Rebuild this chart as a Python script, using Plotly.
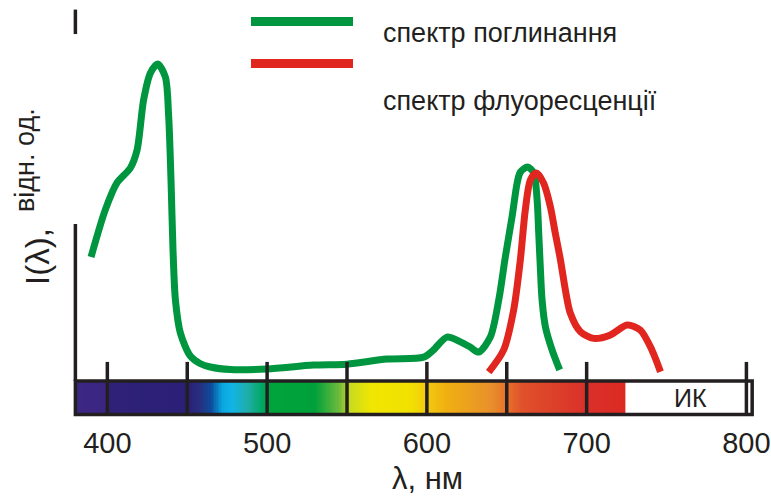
import plotly.graph_objects as go
import numpy as np

# ---- data (relative intensity, wavelength in nm) ----
absorb_nm = [389.8, 398.7, 406.0, 414.4, 418.6, 422.7, 427.0, 431.5, 436.3, 438.4, 439.9, 441.1,
             442.6, 445.7, 452.0, 458.0, 464.5, 477.0, 500.0, 529.0, 550.0, 575.0, 598.0, 604.0,
             612.6, 621.0, 627.0, 632.4, 639.7, 645.0, 649.1, 653.3, 656.5, 658.5, 663.1, 666.9,
             669.0, 670.0, 671.0, 672.1, 674.2, 678.4, 683.1]
absorb_I = [0.390, 0.538, 0.623, 0.670, 0.726, 0.884, 0.969, 0.997, 0.956, 0.830, 0.623, 0.412,
            0.255, 0.151, 0.078, 0.055, 0.044, 0.036, 0.038, 0.050, 0.053, 0.069, 0.075, 0.097,
            0.138, 0.123, 0.107, 0.091, 0.138, 0.255, 0.390, 0.516, 0.623, 0.657, 0.673, 0.654,
            0.569, 0.465, 0.358, 0.255, 0.170, 0.097, 0.035]

fluor_nm = [638.7, 648.0, 654.3, 658.5, 661.6, 664.8, 668.5, 673.1, 677.3, 680.4, 683.6, 686.7,
            689.8, 696.1, 704.4, 714.9, 725.3, 733.6, 740.9, 746.2]
fluor_I = [0.028, 0.097, 0.223, 0.381, 0.538, 0.632, 0.654, 0.622, 0.548, 0.464, 0.381, 0.286,
           0.213, 0.155, 0.134, 0.145, 0.176, 0.160, 0.097, 0.029]

tick_labels = [400, 500, 600, 700, 800]
tick_marks = [400, 450, 500, 550, 600, 650, 700, 800]

# visible-spectrum colour band
band_nm = [380, 399, 401, 450, 458, 465, 472, 478, 488, 497, 502, 530, 545, 552, 565, 590,
           600, 612, 640, 650, 660, 700, 724]
band_col = ['#3d2785', '#3a2583', '#2f2177', '#2b1f78', '#26307f', '#0d4c9c', '#0aa6df',
            '#12b4e6', '#20ada8', '#00a862', '#00a43c', '#00a13a', '#6fba3c', '#c8dc1e',
            '#f0e602', '#f2e100', '#f2c810', '#f0b010', '#e8902c', '#e8702a', '#e0502a',
            '#da302a', '#dc2a22']
band_top, band_bottom = 0.0, -0.105
band_end = 803.6
ir_label = 'ИК'

GREEN = '#009640'
RED = '#e0261e'
BLACK = '#231f20'
FONT = 'Liberation Sans, Arial, sans-serif'

# ---- geometry ----
W, H = 771, 496
L, R, T, B = 69, 15, 8, 73
XR = [376, 806]
YR = [-0.1321, 1.1730]

def px(wx):   # pixel x -> paper x
    return (wx - L) / (W - L - R)

def py(wy):   # pixel y -> paper y
    return 1 - (wy - T) / (H - T - B)

fig = go.Figure()

lo, hi = band_nm[0], band_nm[-1]
xc = np.arange(lo + 0.5, hi, 1.0)
cs = [[(w - lo) / (hi - lo), c] for w, c in zip(band_nm, band_col)]
fig.add_trace(go.Heatmap(x=xc, y0=(band_top + band_bottom) / 2, dy=band_top - band_bottom, z=[xc],
                         colorscale=cs, zmin=lo, zmax=hi, showscale=False, hoverinfo='skip'))

fig.add_trace(go.Scatter(x=absorb_nm, y=absorb_I, mode='lines',
                         line=dict(color=GREEN, width=7, shape='spline', smoothing=0.8),
                         hoverinfo='skip', showlegend=False))
fig.add_trace(go.Scatter(x=fluor_nm, y=fluor_I, mode='lines',
                         line=dict(color=RED, width=7, shape='spline', smoothing=0.8),
                         hoverinfo='skip', showlegend=False))

shapes = []
shapes.append(dict(type='rect', xref='x', yref='y', x0=lo, x1=band_end, y0=band_bottom, y1=band_top,
                   line=dict(color=BLACK, width=3.5), fillcolor='rgba(0,0,0,0)', layer='above'))
for t in tick_marks:
    shapes.append(dict(type='line', xref='x', yref='y', x0=t, x1=t, y0=band_bottom, y1=0.06,
                       line=dict(color=BLACK, width=3.5), layer='above'))
# left axis (broken)
shapes.append(dict(type='line', xref='x', yref='y', x0=lo, x1=lo, y0=0, y1=0.494,
                   line=dict(color=BLACK, width=3.5), layer='above'))
shapes.append(dict(type='line', xref='x', yref='y', x0=lo, x1=lo, y0=1.091, y1=1.168,
                   line=dict(color=BLACK, width=3.5), layer='above'))
# legend swatches
shapes.append(dict(type='line', xref='paper', yref='paper', x0=px(251), x1=px(353), y0=py(21.5), y1=py(21.5),
                   line=dict(color=GREEN, width=9)))
shapes.append(dict(type='line', xref='paper', yref='paper', x0=px(251), x1=px(353), y0=py(63.5), y1=py(63.5),
                   line=dict(color=RED, width=9)))

annotations = [
    dict(x=px(381), y=py(33), text='спектр поглинання', xanchor='left', font_size=27),
    dict(x=px(381), y=py(101), text='спектр флуоресценції', xanchor='left', font_size=27),
    dict(x=px(690), y=py(398), text=ir_label, xanchor='center', font_size=25),
    dict(x=px(37), y=py(257), text='I(λ),', textangle=-90, xanchor='center', font_size=33),
    dict(x=px(25), y=py(160), text='відн. од.', textangle=-90, xanchor='center', font_size=27),
    dict(x=px(427), y=py(478), text='λ, нм', xanchor='center', font_size=31),
]
for a in annotations:
    a.update(xref='paper', yref='paper', showarrow=False, yanchor='middle')
    a['font'] = dict(family=FONT, size=a.pop('font_size'), color=BLACK)

fig.update_layout(
    width=W, height=H, margin=dict(l=L, r=R, t=T, b=B, pad=0, autoexpand=False),
    paper_bgcolor='white', plot_bgcolor='white', showlegend=False,
    shapes=shapes, annotations=annotations,
    xaxis=dict(range=XR, tickvals=tick_labels, ticktext=[str(v) for v in tick_labels],
               showgrid=False, zeroline=False, showline=False, ticks='', automargin=False,
               tickfont=dict(family=FONT, size=29, color=BLACK)),
    yaxis=dict(range=YR, visible=False, showgrid=False, zeroline=False, automargin=False),
)
fig.write_html('out.html', config={'displayModeBar': False},
               post_script="document.body.style.margin='0';document.body.style.overflow='hidden';")
